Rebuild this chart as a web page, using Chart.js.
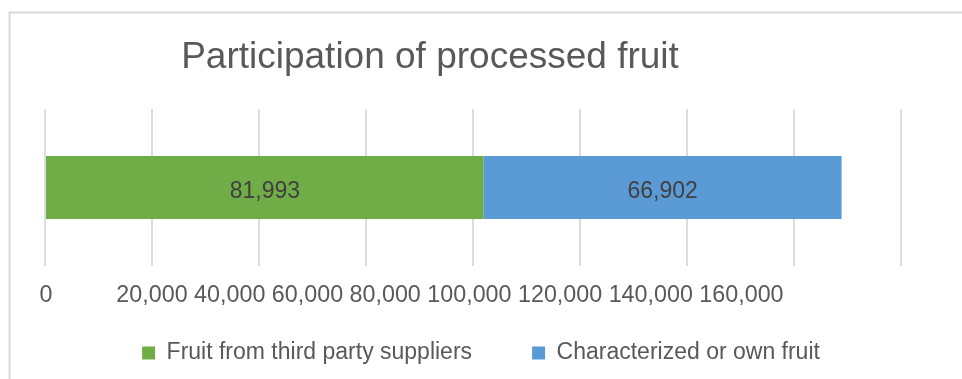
<!DOCTYPE html>
<html>
<head>
<meta charset="utf-8">
<script src="https://cdn.jsdelivr.net/npm/chart.js@4.4.1/dist/chart.umd.min.js"></script>
<style>
  html, body { margin: 0; padding: 0; background: #ffffff; overflow: hidden; }
  #c { display: block; }
</style>
</head>
<body>
<canvas id="c" width="962" height="379"></canvas>
<script>
// ---- Data ----
const chartTitle = 'Participation of processed fruit';
const categories = ['Processed fruit'];
const seriesNames = ['Fruit from third party suppliers', 'Characterized or own fruit'];
const thirdPartyValues = [81993];
const ownFruitValues = [66902];
const tickValues = [0, 20000, 40000, 60000, 80000, 100000, 120000, 140000, 160000];
const tickLabels = ['0', '20,000', '40,000', '60,000', '80,000', '100,000', '120,000', '140,000', '160,000'];

const FONT = "'Liberation Sans', Arial, Helvetica, sans-serif";
const TEXT = '#595959';

const frame = {
  id: 'frame',
  beforeDraw(chart) {
    const ctx = chart.ctx;
    ctx.save();
    ctx.fillStyle = '#ffffff';
    ctx.fillRect(0, 0, chart.width, chart.height);
    ctx.strokeStyle = '#d9d9d9';
    ctx.lineWidth = 2;
    ctx.beginPath();
    ctx.moveTo(9.5, chart.height + 2);
    ctx.lineTo(9.5, 12.5);
    ctx.lineTo(chart.width + 2, 12.5);
    ctx.stroke();
    ctx.restore();
  }
};

const texts = {
  id: 'texts',
  afterDraw(chart) {
    const ctx = chart.ctx;
    const xs = chart.scales.x;
    ctx.save();
    // Title
    ctx.fillStyle = TEXT;
    ctx.font = `37px ${FONT}`;
    ctx.textAlign = 'center';
    ctx.textBaseline = 'alphabetic';
    ctx.fillText(chartTitle, 430, 68);

    // Axis tick labels (first centered on 0, the rest run together as in the original)
    ctx.font = `23.3px ${FONT}`;
    ctx.textBaseline = 'middle';
    const ty = chart.chartArea.bottom + 30;
    ctx.textAlign = 'center';
    ctx.fillText(tickLabels[0], xs.getPixelForValue(tickValues[0]) + 1, ty);
    const rest = tickLabels.slice(1).join(' ');
    ctx.textAlign = 'left';
    const startX = xs.getPixelForValue(tickValues[1]) - ctx.measureText(tickLabels[1]).width / 2;
    ctx.fillText(rest, startX, ty);

    // Data labels
    ctx.font = `23px ${FONT}`;
    ctx.fillStyle = '#404040';
    ctx.textAlign = 'center';
    chart.data.datasets.forEach((ds, di) => {
      const meta = chart.getDatasetMeta(di);
      meta.data.forEach((bar, i) => {
        const v = ds.data[i];
        const cx = (bar.x + bar.base) / 2;
        ctx.fillText(v.toLocaleString('en-US'), cx, bar.y + 4);
      });
    });
    ctx.restore();
  }
};

new Chart(document.getElementById('c'), {
  type: 'bar',
  data: {
    labels: categories,
    datasets: [
      { label: seriesNames[0], data: thirdPartyValues, backgroundColor: '#70AD47', borderWidth: 0 },
      { label: seriesNames[1], data: ownFruitValues, backgroundColor: '#5B9BD5', borderWidth: 0 }
    ]
  },
  options: {
    indexAxis: 'y',
    responsive: false,
    animation: false,
    devicePixelRatio: 1,
    layout: { padding: { left: 0, right: 0, top: 109, bottom: 4.5 } },
    datasets: { bar: { barPercentage: 0.4, categoryPercentage: 1 } },
    scales: {
      x: {
        stacked: true,
        min: 0,
        max: 160000,
        afterBuildTicks(scale) { scale.ticks = tickValues.map(v => ({ value: v })); },
        afterFit(scale) { scale.height = 15.5; },
        ticks: { display: false },
        grid: { color: '#dcdcdc', lineWidth: 2, drawTicks: false },
        border: { display: false }
      },
      y: {
        stacked: true,
        position: 'left',
        afterFit(scale) { scale.width = 45; },
        ticks: { display: false },
        grid: { display: false, drawTicks: false },
        border: { display: false }
      },
      yRight: {
        type: 'category',
        axis: 'y',
        position: 'right',
        afterFit(scale) { scale.width = 61; },
        ticks: { display: false },
        grid: { display: false, drawTicks: false },
        border: { display: false }
      }
    },
    plugins: {
      title: { display: false },
      tooltip: { enabled: false },
      legend: {
        display: true,
        position: 'bottom',
        labels: {
          color: TEXT,
          font: { family: FONT, size: 23 },
          boxWidth: 13,
          boxHeight: 13,
          padding: 60
        }
      }
    }
  },
  plugins: [frame, texts]
});
</script>
</body>
</html>
